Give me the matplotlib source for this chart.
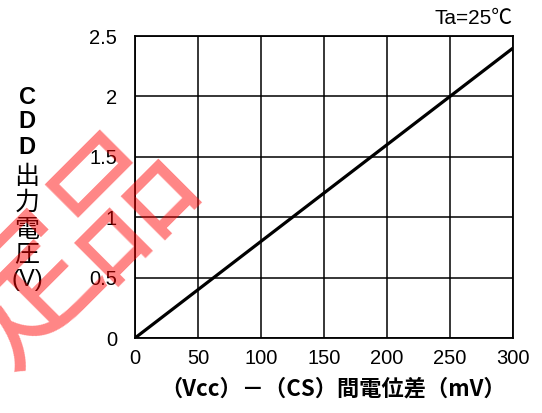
import matplotlib
matplotlib.use("Agg")
import matplotlib.pyplot as plt

# Data: CDD output voltage vs (Vcc)-(CS) potential difference
diff_mv = [0, 300]
cdd_v = [0.0, 2.4]
x_ticks = [0, 50, 100, 150, 200, 250, 300]
y_ticks = [0, 0.5, 1, 1.5, 2, 2.5]
y_tick_labels = ["0", "0.5", "1", "1.5", "2", "2.5"]
ylabel_chars = ["C", "D", "D", "出", "力", "電", "圧", "(V)"]

LAT = ["Liberation Sans", "Noto Sans CJK JP", "DejaVu Sans"]
CJK = ["Noto Sans CJK JP", "DejaVu Sans"]

W, H = 542, 413
fig = plt.figure(figsize=(W / 100, H / 100), dpi=100)
ax = fig.add_axes([135 / W, 1 - 338 / H, (513 - 135) / W, (338 - 36) / H])
ax.set_facecolor("none")

ax.plot(diff_mv, cdd_v, color="black", lw=2.3, solid_capstyle="butt", zorder=3)

ax.set_xlim(0, 300)
ax.set_ylim(0, 2.5)
ax.set_xticks(x_ticks)
ax.set_yticks(y_ticks)
ax.set_xticklabels([str(v) for v in x_ticks], family=LAT, fontsize=14.5)
ax.set_yticklabels(y_tick_labels, family=LAT, fontsize=14.5)
ax.tick_params(length=0)
ax.tick_params(axis="x", pad=8)
ax.tick_params(axis="y", pad=13)
ax.grid(True, color="black", lw=1.1)
for s in ax.spines.values():
    s.set_linewidth(1.3)

# x-axis title
fig.text(333 / W, 1 - 389 / H, "（Vcc）－（CS）間電位差（mV）",
         ha="center", va="center", family=CJK, fontsize=16, fontweight="bold")

# y-axis title, stacked one character per line
ys = [97, 121, 148, 177, 203, 230, 254, 280]
for ch, yy in zip(ylabel_chars, ys):
    if ch in "CD":
        kw = dict(family=LAT, fontsize=17, fontweight="bold")
    elif ch == "(V)":
        kw = dict(family=LAT, fontsize=17)
    else:
        kw = dict(family=CJK, fontsize=18)
    fig.text(27 / W, 1 - yy / H, ch, ha="center", va="center", **kw)

fig.text(513 / W, 1 - 18 / H, "Ta=25℃", ha="right", va="center",
         family=LAT, fontsize=15)

# Red stamp across the left side
fig.text(119 / W, 1 - 200 / H, "品", ha="center", va="center", rotation=45,
         family=CJK, fontsize=102, color="red", alpha=0.48, zorder=10)
fig.text(27 / W, 1 - 290 / H, "定", ha="center", va="center", rotation=45,
         family=CJK, fontsize=102, color="red", alpha=0.48, zorder=10)

fig.savefig("out.png", dpi=100)
